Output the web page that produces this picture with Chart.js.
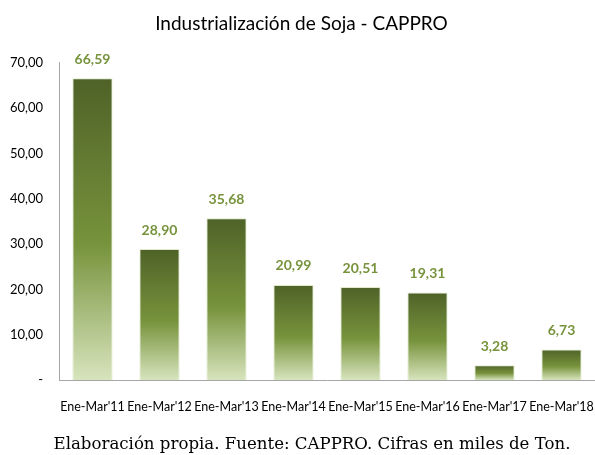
<!DOCTYPE html>
<html>
<head>
<meta charset="utf-8">
<script src="https://cdn.jsdelivr.net/npm/chart.js@4"></script>
<style>
    body { margin: 0; background: #fff; }
    #wrap { position: relative; width: 595px; height: 455px; }
    #nota {
        position: absolute; left: 0; width: 624px; top: 434px;
        text-align: center; font: 16.6px "DejaVu Serif", "Liberation Serif", serif; color: #000;
        white-space: nowrap;
    }
</style>
</head>
<body>
<div id="wrap">
    <canvas id="sojaChart" width="595" height="455"></canvas>
    <div id="nota">Elaboración propia. Fuente: CAPPRO. Cifras en miles de Ton.</div>
</div>
<script>
const periodos = ["Ene-Mar'11", "Ene-Mar'12", "Ene-Mar'13", "Ene-Mar'14", "Ene-Mar'15", "Ene-Mar'16", "Ene-Mar'17", "Ene-Mar'18"];
const industrializacion = [66.59, 28.90, 35.68, 20.99, 20.51, 19.31, 3.28, 6.73];
const ticksY = [0, 10, 20, 30, 40, 50, 60, 70];

const fuente = "Lato, Roboto, sans-serif";
const fmt = (v) => v === 0 ? "-" : v.toFixed(2).replace(".", ",");

// etiquetas de valor encima de cada barra
const etiquetas = {
    id: "etiquetas",
    afterDatasetsDraw(chart) {
        const c = chart.ctx;
        const meta = chart.getDatasetMeta(0);
        c.save();
        c.font = "bold 14px " + fuente;
        c.fillStyle = "#77933c";
        c.textAlign = "center";
        c.textBaseline = "middle";
        meta.data.forEach((bar, i) => {
            c.fillText(fmt(industrializacion[i]), bar.x, bar.y - 19);
        });
        c.restore();
    },
};

const ctx = document.getElementById("sojaChart");

new Chart(ctx, {
    type: "bar",
    data: {
        labels: periodos,
        datasets: [
            {
                label: "Industrialización",
                data: industrializacion,
                backgroundColor: (context) => {
                    const chart = context.chart;
                    const y = chart.scales.y;
                    if (!chart.chartArea || !y) return "#77933c";
                    const top = y.getPixelForValue(context.raw);
                    const bottom = y.getPixelForValue(0);
                    if (!isFinite(top) || !isFinite(bottom) || top === bottom) return "#77933c";
                    const g = chart.ctx.createLinearGradient(0, top, 0, bottom);
                    g.addColorStop(0, "#4f6228");
                    g.addColorStop(0.55, "#77933c");
                    g.addColorStop(1, "#d7e4bd");
                    return g;
                },
                borderColor: "rgba(215,228,189,0.8)",
                borderWidth: 1,
                barPercentage: 0.6,
                categoryPercentage: 1,
            },
        ],
    },
    options: {
        responsive: false,
        animation: false,
        layout: {
            padding: { left: 8, right: 0, top: 0, bottom: 0 },
        },
        scales: {
            x: {
                grid: { display: false, drawTicks: false },
                border: { color: "#a6a6a6", width: 1 },
                ticks: {
                    padding: 19,
                    color: "#000",
                    font: { family: fuente, size: 12.5 },
                    maxRotation: 0,
                    autoSkip: false,
                },
                afterFit: (scale) => {
                    scale.height = 75;
                    scale.paddingLeft = 0;
                    scale.paddingRight = 0;
                },
            },
            y: {
                min: 0,
                max: 70,
                grid: { display: false, drawTicks: false },
                border: { color: "#a6a6a6", width: 1 },
                afterBuildTicks: (scale) => {
                    scale.ticks = ticksY.map((v) => ({ value: v }));
                },
                ticks: {
                    padding: 16,
                    color: "#000",
                    font: { family: fuente, size: 13 },
                    callback: (v) => fmt(v),
                },
                afterFit: (scale) => {
                    scale.width = 51;
                    scale.paddingTop = 0;
                    scale.paddingBottom = 0;
                },
            },
        },
        plugins: {
            legend: { display: false },
            tooltip: { enabled: false },
            title: {
                display: true,
                text: "Industrialización de Soja - CAPPRO",
                color: "#000",
                font: { family: fuente, size: 19, weight: "normal" },
                padding: { top: 12, bottom: 28 },
            },
        },
    },
    plugins: [etiquetas],
});
</script>
</body>
</html>
